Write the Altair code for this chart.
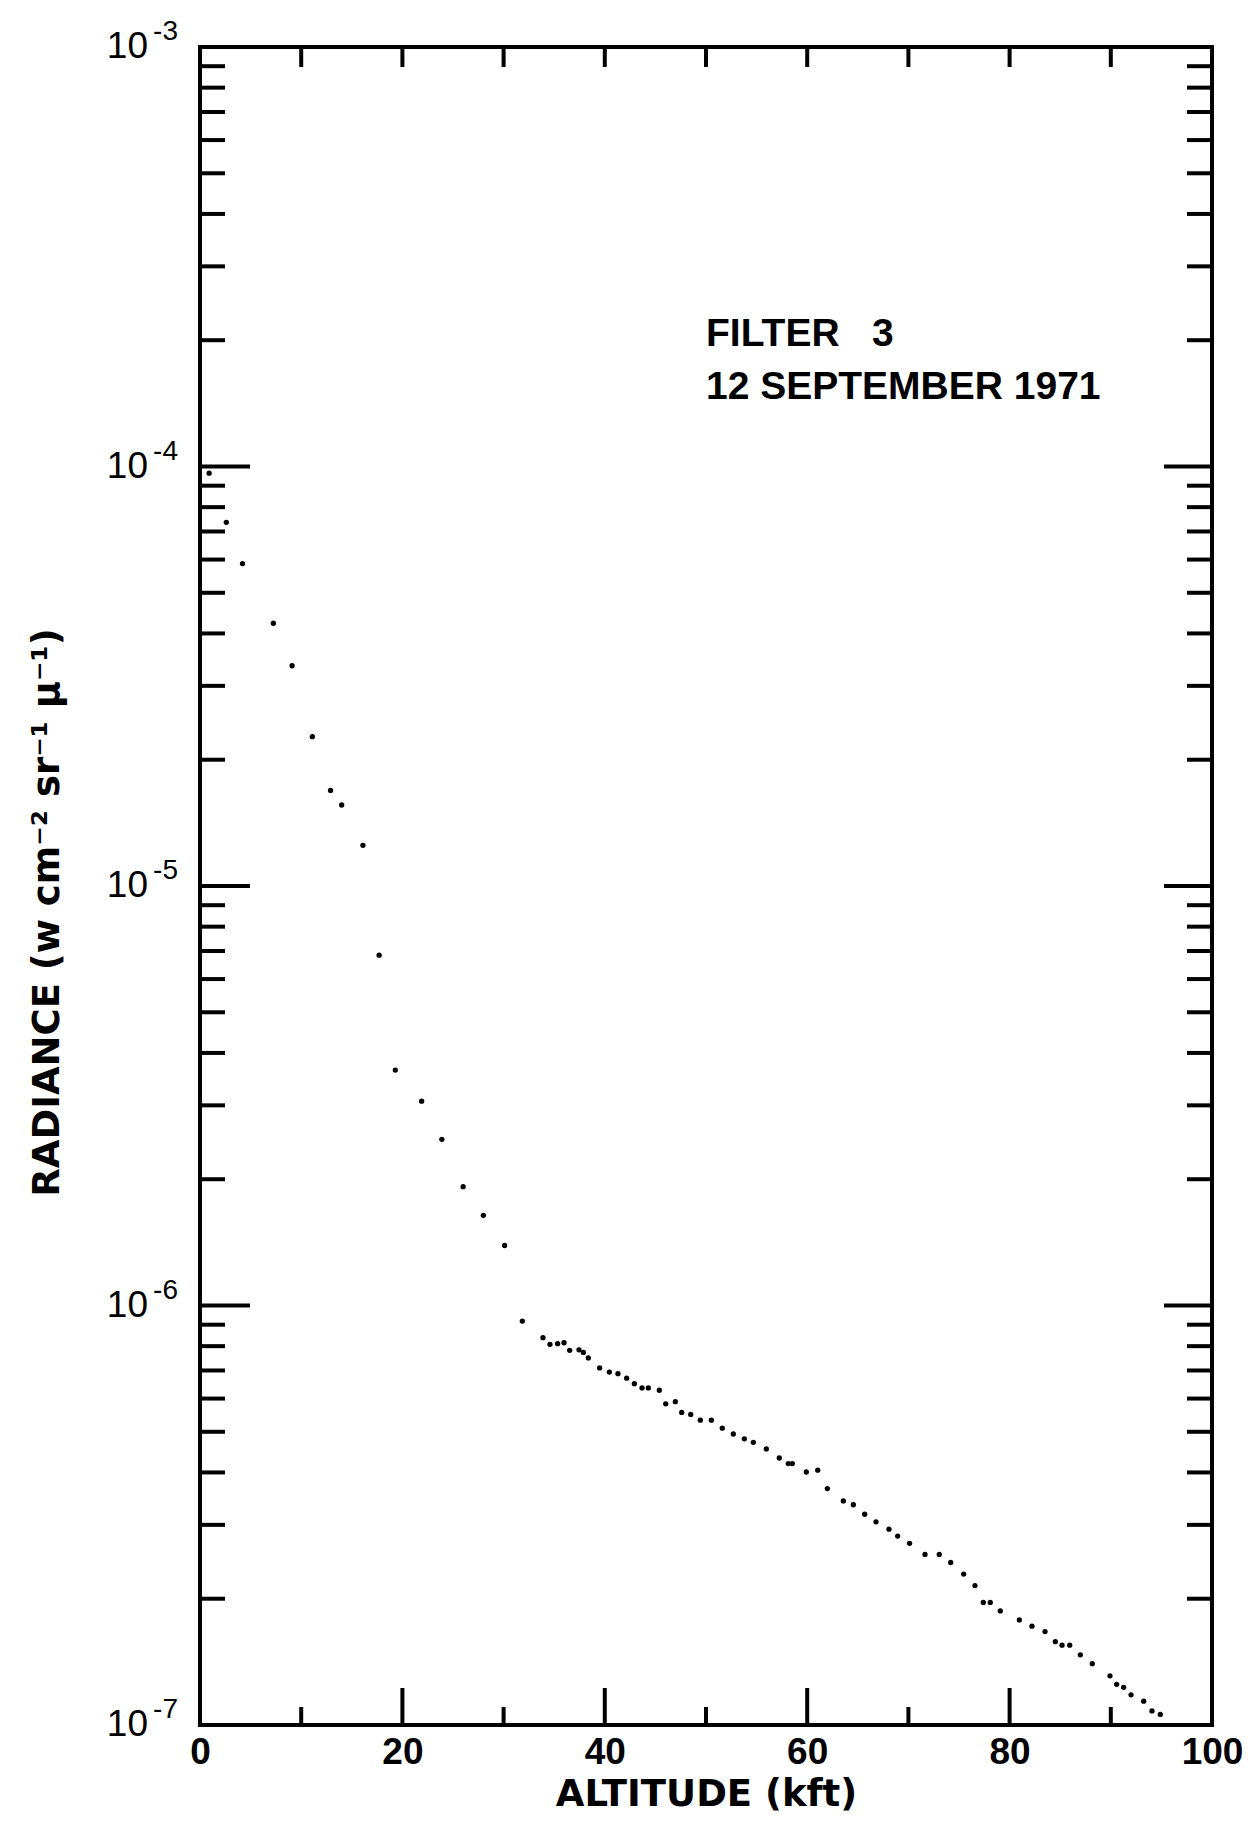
import altair as alt
import pandas as pd

# ---- data ----
altitude_kft = [
    0.9, 2.6, 4.2, 7.25, 9.1, 11.1, 12.9, 14.0, 16.1, 17.7, 19.3, 21.9, 23.9, 26.0, 28.0, 30.1, 31.85,
    33.89, 34.58, 35.34, 35.97, 36.53, 37.45, 37.88, 38.37, 39.49, 40.45, 41.30, 42.16, 42.92, 43.68,
    44.30, 45.39, 46.02, 46.97, 47.60, 48.49, 49.44, 50.53, 51.61, 52.70, 53.79,
    54.68, 55.96, 57.24, 58.13, 58.53, 59.91, 61.04, 61.99, 63.57, 64.56, 65.68, 66.80, 68.08, 68.94,
    70.12, 71.64, 73.05, 74.18, 75.46,
    76.58, 77.40, 78.09, 79.08, 80.96, 82.21, 83.50, 84.52, 85.18, 85.94, 86.99, 88.17, 89.92, 90.58,
    91.27, 92.00, 93.25, 94.07, 94.89,
]
radiance = [
    9.64e-5, 7.36e-5, 5.87e-5, 4.23e-5, 3.35e-5, 2.27e-5, 1.69e-5, 1.56e-5, 1.25e-5, 6.84e-6,
    3.64e-6, 3.07e-6, 2.49e-6, 1.92e-6, 1.64e-6, 1.39e-6, 9.18e-7,
    8.38e-7, 8.08e-7, 8.11e-7, 8.15e-7, 7.82e-7, 7.84e-7, 7.73e-7, 7.50e-7, 7.10e-7, 6.94e-7,
    6.88e-7, 6.71e-7, 6.51e-7, 6.36e-7, 6.36e-7, 6.28e-7, 5.83e-7, 5.90e-7, 5.56e-7, 5.50e-7,
    5.33e-7, 5.33e-7, 5.10e-7, 4.94e-7, 4.81e-7,
    4.72e-7, 4.55e-7, 4.33e-7, 4.20e-7, 4.20e-7, 4.01e-7, 4.05e-7, 3.66e-7, 3.42e-7, 3.35e-7,
    3.18e-7, 3.05e-7, 2.93e-7, 2.82e-7, 2.71e-7, 2.55e-7, 2.55e-7, 2.44e-7, 2.29e-7,
    2.15e-7, 1.96e-7, 1.96e-7, 1.87e-7, 1.78e-7, 1.72e-7, 1.67e-7, 1.58e-7, 1.55e-7, 1.55e-7,
    1.47e-7, 1.40e-7, 1.31e-7, 1.25e-7, 1.23e-7, 1.18e-7, 1.14e-7, 1.08e-7, 1.06e-7,
]

x_label_values = [0, 20, 40, 60, 80, 100]
x_major_ticks = [20, 40, 60, 80]
x_minor_ticks = [10, 30, 50, 70, 90]
x_top_ticks = [10, 20, 30, 40, 50, 60, 70, 80, 90]

y_decades = [1e-3, 1e-4, 1e-5, 1e-6, 1e-7]
y_decade_base = ["10", "10", "10", "10", "10"]
y_decade_exp = ["-3", "-4", "-5", "-6", "-7"]
y_major_ticks = [1e-4, 1e-5, 1e-6]
y_minor_ticks = [k * d for d in (1e-7, 1e-6, 1e-5, 1e-4) for k in range(2, 10)]

note_lines = ["FILTER\u00a0\u00a0\u00a03", "12 SEPTEMBER 1971"]
note_x = [50, 50]
note_y = [1.94e-4, 1.45e-4]

W, H = 1012, 1678
FONT = "Liberation Sans"
TFONT = "DejaVu Sans"

x_scale = alt.Scale(domain=[0, 100], nice=False, zero=False)
y_scale = alt.Scale(type="log", domain=[1e-7, 1e-3], nice=False)

x_axis = alt.Axis(
    values=x_label_values, title="ALTITUDE (kft)", ticks=False, domain=False, grid=False,
    labelFont=FONT, labelFontSize=37, labelFontWeight="bold", labelColor="black",
    labelPadding=9, labelFlush=False, labelOverlap=False,
    titleFont=TFONT, titleFontSize=37, titleFontWeight="bold", titleColor="black", titlePadding=6,
)
y_axis = alt.Axis(
    labels=False, ticks=False, domain=False, grid=False,
    title="RADIANCE (w cm\u207b\u00b2 sr\u207b\u00b9 \u03bc\u207b\u00b9)",
    titleFont=TFONT, titleFontSize=37, titleFontWeight="bold", titleColor="black",
    titleAngle=270, titleAlign="center", titleBaseline="middle", titleX=-153, titleY=865,
)

df = pd.DataFrame({"alt": altitude_kft, "rad": radiance})
points = alt.Chart(df).mark_circle(size=28, color="black", opacity=1).encode(
    x=alt.X("alt:Q", scale=x_scale, axis=x_axis),
    y=alt.Y("rad:Q", scale=y_scale, axis=y_axis),
)

tick_style = dict(color="black", strokeWidth=4, strokeCap="butt")

def yrules(values, x0, x1):
    return alt.Chart(pd.DataFrame({"v": values})).mark_rule(**tick_style).encode(
        y=alt.Y("v:Q", scale=y_scale, axis=y_axis), x=alt.value(x0), x2=alt.value(x1))

def xrules(values, y0, y1):
    return alt.Chart(pd.DataFrame({"v": values})).mark_rule(**tick_style).encode(
        x=alt.X("v:Q", scale=x_scale, axis=x_axis), y=alt.value(y0), y2=alt.value(y1))

left_major = yrules(y_major_ticks, 0, 50)
left_minor = yrules(y_minor_ticks, 0, 25)
right_major = yrules(y_major_ticks, W, W - 48)
right_minor = yrules(y_minor_ticks, W, W - 25)
top_ticks = xrules(x_top_ticks, 0, 20)
bottom_major = xrules(x_major_ticks, H, H - 37)
bottom_minor = xrules(x_minor_ticks, H, H - 18)

dec_df = pd.DataFrame({"v": y_decades, "base": y_decade_base, "exp": y_decade_exp})
dec_base = alt.Chart(dec_df).mark_text(
    font=FONT, fontSize=37, align="right", baseline="middle", color="black"
).encode(y=alt.Y("v:Q", scale=y_scale, axis=y_axis), x=alt.value(-52), text="base:N")
dec_exp = alt.Chart(dec_df).mark_text(
    font=FONT, fontSize=28, align="right", baseline="bottom", color="black", dy=-1
).encode(y=alt.Y("v:Q", scale=y_scale, axis=y_axis), x=alt.value(-22), text="exp:N")

note_df = pd.DataFrame({"x": note_x, "y": note_y, "t": note_lines})
note = alt.Chart(note_df).mark_text(
    font=FONT, fontSize=39, fontWeight="bold", align="left", baseline="alphabetic", color="black"
).encode(
    x=alt.X("x:Q", scale=x_scale, axis=x_axis),
    y=alt.Y("y:Q", scale=y_scale, axis=y_axis),
    text="t:N",
)

chart = alt.layer(
    left_major, left_minor, right_major, right_minor, top_ticks, bottom_major, bottom_minor,
    dec_base, dec_exp, note, points,
).properties(
    width=W, height=H,
    autosize=alt.AutoSizeParams(type="none"),
    padding={"left": 192, "top": 39, "right": 35, "bottom": 99},
    background="white",
).configure_view(stroke="black", strokeWidth=4)

chart.save("out.html", embed_options={"renderer": "svg", "actions": False})
